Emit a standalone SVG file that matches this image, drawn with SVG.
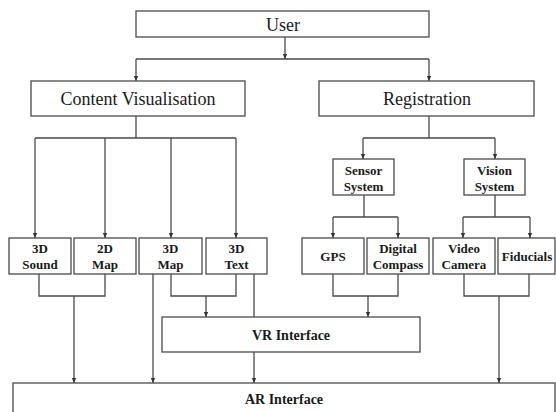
<svg xmlns="http://www.w3.org/2000/svg" width="556" height="412" viewBox="0 0 556 412">
<style>
.box{fill:#fff;stroke:#4a4a4a;stroke-width:1.3}
.big{font-family:"Liberation Serif","Times New Roman",serif;font-size:18px;fill:#1a1a1a;text-anchor:middle}
.sm{font-family:"Liberation Serif","Times New Roman",serif;font-size:13px;font-weight:bold;fill:#1a1a1a;text-anchor:middle}
.mid{font-family:"Liberation Serif","Times New Roman",serif;font-size:14px;font-weight:bold;fill:#1a1a1a;text-anchor:middle}
.c{fill:none;stroke:#4a4a4a;stroke-width:1.3}
.a{marker-end:url(#ah)}
</style>
<defs>
<marker id="ah" markerUnits="userSpaceOnUse" markerWidth="6" markerHeight="6" refX="5" refY="3" orient="auto">
<path d="M0,0.8 L5,3 L0,5.2 z" fill="#333"/>
</marker>
</defs>
<rect width="556" height="412" fill="#fff"/>
<g id="connectors">
<path class="c a" d="M285 37 V59"/>
<path class="c" d="M136 59 H429"/>
<path class="c a" d="M136 59 V81"/>
<path class="c a" d="M429 59 V81"/>
<path class="c" d="M136 116 V138 M35 138 H236"/>
<path class="c a" d="M35 138 V238"/>
<path class="c a" d="M105 138 V238"/>
<path class="c a" d="M171 138 V238"/>
<path class="c a" d="M236 138 V238"/>
<path class="c" d="M429 116 V138 M363 138 H495"/>
<path class="c a" d="M363 138 V159"/>
<path class="c a" d="M495 138 V159"/>
<path class="c" d="M364 195 V217 M333 217 H398"/>
<path class="c a" d="M333 217 V238"/>
<path class="c a" d="M398 217 V238"/>
<path class="c" d="M495 195 V217 M463 217 H530"/>
<path class="c a" d="M463 217 V238"/>
<path class="c a" d="M530 217 V238"/>
<path class="c" d="M39 274 V296 H105 V274"/>
<path class="c a" d="M74 296 V383"/>
<path class="c a" d="M153 274 V383"/>
<path class="c" d="M171 274 V296 H236 V274"/>
<path class="c a" d="M206 296 V317"/>
<path class="c" d="M254 274 V317"/>
<path class="c a" d="M254 352 V383"/>
<path class="c" d="M333 274 V296 H398 V274"/>
<path class="c a" d="M368 296 V317"/>
<path class="c" d="M464 274 V296 H529 V274"/>
<path class="c a" d="M499 296 V383"/>
</g>
<g id="user"><rect class="box" x="136" y="11" width="293" height="26"/><text class="big" x="283" y="31">User</text></g>
<g id="content"><rect class="box" x="31" y="81" width="214" height="35"/><text class="big" x="138" y="105">Content Visualisation</text></g>
<g id="registration"><rect class="box" x="319" y="81" width="215" height="35"/><text class="big" x="427" y="105">Registration</text></g>
<g id="sensor"><rect class="box" x="333" y="159" width="61" height="36"/><text class="sm" x="363.5" y="175">Sensor</text><text class="sm" x="363.5" y="191">System</text></g>
<g id="vision"><rect class="box" x="464" y="159" width="61" height="36"/><text class="sm" x="494.5" y="175">Vision</text><text class="sm" x="494.5" y="191">System</text></g>
<g id="sound3d"><rect class="box" x="9" y="238" width="62" height="36"/><text class="sm" x="40" y="253">3D</text><text class="sm" x="40" y="269">Sound</text></g>
<g id="map2d"><rect class="box" x="74" y="238" width="62" height="36"/><text class="sm" x="105" y="253">2D</text><text class="sm" x="105" y="269">Map</text></g>
<g id="map3d"><rect class="box" x="139" y="238" width="63" height="36"/><text class="sm" x="170.5" y="253">3D</text><text class="sm" x="170.5" y="269">Map</text></g>
<g id="text3d"><rect class="box" x="206" y="238" width="61" height="36"/><text class="sm" x="236.5" y="253">3D</text><text class="sm" x="236.5" y="269">Text</text></g>
<g id="gps"><rect class="box" x="302" y="238" width="62" height="36"/><text class="sm" x="333" y="261">GPS</text></g>
<g id="compass"><rect class="box" x="367" y="238" width="62" height="36"/><text class="sm" x="398" y="253">Digital</text><text class="sm" x="398" y="269">Compass</text></g>
<g id="camera"><rect class="box" x="433" y="238" width="62" height="36"/><text class="sm" x="464" y="253">Video</text><text class="sm" x="464" y="269">Camera</text></g>
<g id="fiducials"><rect class="box" x="498" y="238" width="57" height="36"/><text class="sm" x="527" y="261">Fiducials</text></g>
<g id="vr"><rect class="box" x="162" y="317" width="258" height="35"/><text class="mid" x="291" y="340">VR Interface</text></g>
<g id="ar"><rect class="box" x="13" y="383" width="542" height="40"/><text class="mid" x="284" y="404">AR Interface</text></g>
</svg>
